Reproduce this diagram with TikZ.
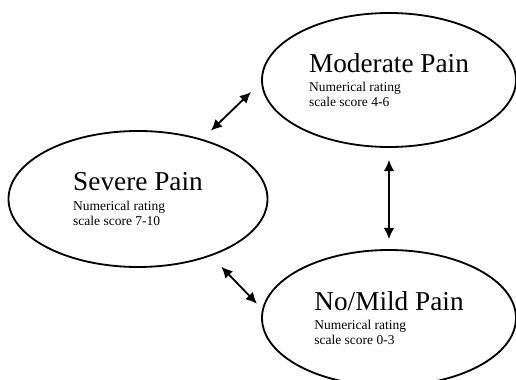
\documentclass[tikz,border=0pt]{standalone}
\usepackage{fontspec}
\setmainfont{Liberation Serif}
\usetikzlibrary{shapes.geometric,arrows.meta}
\tikzset{
  painstate/.style={draw, ellipse, line width=1.3pt, inner sep=0pt, align=left, font=\fontsize{9.6}{10.7}\selectfont},
  twoway/.style={{Latex[length=8pt,width=7.5pt]}-{Latex[length=8pt,width=7.5pt]}, line width=1.3pt}
}
\newcommand{\painname}[1]{{\fontsize{19.4}{14}\selectfont #1}\\[3.3pt]}

\begin{document}
\begin{tikzpicture}
\useasboundingbox (0,0) rectangle (12.9,-9.5);
% three states
\node[painstate, minimum width=6.35cm, minimum height=3.35cm] (mod) at (9.725,-2) {\painname{Moderate Pain}Numerical rating\\scale score 4-6};
\node[painstate, minimum width=6.475cm, minimum height=3.4cm] (sev) at (3.45,-4.975) {\painname{Severe Pain}Numerical rating\\scale score 7-10};
\node[painstate, minimum width=6.35cm, minimum height=3.4cm] (nm) at (9.725,-7.95) {\painname{No/Mild Pain}Numerical rating\\scale score 0-3};

% arrows between states
\draw[twoway, shorten <=8.5pt, shorten >=10pt] (sev.43) -- (mod.181);
\draw[twoway, shorten <=8.5pt, shorten >=7pt] (mod.south) -- (nm.north);
\draw[twoway, shorten <=10.5pt, shorten >=5.3pt] (sev.-38) -- (nm.176);
\end{tikzpicture}
\end{document}
